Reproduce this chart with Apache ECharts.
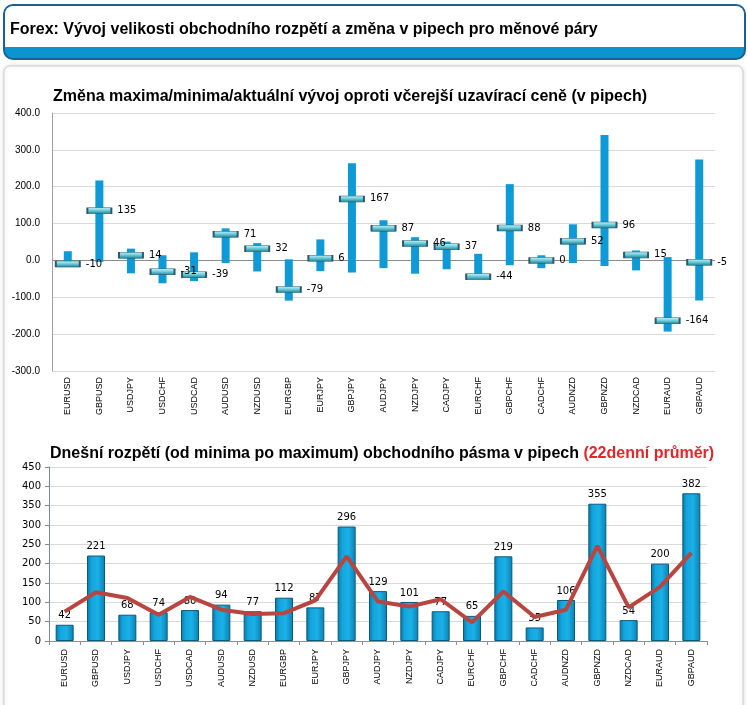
<!DOCTYPE html>
<html>
<head>
<meta charset="utf-8">
<script src="https://cdn.jsdelivr.net/npm/echarts@6/dist/echarts.min.js"></script>
<style>
html,body{margin:0;padding:0;background:#fff;}
#chart{width:748px;height:705px;}
</style>
</head>
<body>
<div id="chart"></div>
<script>
const categories = ['EURUSD','GBPUSD','USDJPY','USDCHF','USDCAD','AUDUSD','NZDUSD','EURGBP','EURJPY','GBPJPY','AUDJPY','NZDJPY','CADJPY','EURCHF','GBPCHF','CADCHF','AUDNZD','GBPNZD','NZDCAD','EURAUD','GBPAUD'];
const highs   = [25, 217, 32, 14, 22, 87, 47, 3, 57, 264, 109, 63, 51, 18, 207, 14, 98, 340, 27, 9, 274];
const lows    = [-16, -4, -35, -62, -56, -7, -30, -109, -29, -33, -21, -36, -24, -47, -13, -21, -7, -15, -27, -193, -109];
const current = [-10, 135, 14, -31, -39, 71, 32, -79, 6, 167, 87, 46, 37, -44, 88, 0, 52, 96, 15, -164, -5];
const ranges  = [42, 221, 68, 74, 80, 94, 77, 112, 87, 296, 129, 101, 77, 65, 219, 35, 106, 355, 54, 200, 382];
const avg22   = [76, 126, 111, 68, 114, 81, 70, 72, 105, 219, 102, 89, 108, 48, 128, 62, 81, 246, 87, 140, 228];
const topTicks = [-300, -200, -100, 0, 100, 200, 300, 400];
const bottomTicks = [0, 50, 100, 150, 200, 250, 300, 350, 400, 450];

const headerText = 'Forex: Vývoj velikosti obchodního rozpětí a změna v pipech pro měnové páry';
const topTitle = 'Změna maxima/minima/aktuální vývoj oproti včerejší uzavírací ceně (v pipech)';
const bottomTitleA = 'Dnešní rozpětí (od minima po maximum) obchodního pásma v pipech ';
const bottomTitleB = '(22denní průměr)';

const chart = echarts.init(document.getElementById('chart'));
const F = 'Liberation Sans, Arial, sans-serif';

const option = {
  animation: false,
  backgroundColor: '#ffffff',
  graphic: [
    {type:'rect', z:-10, shape:{x:4, y:66, width:739, height:660, r:6},
     style:{fill:'#ffffff', stroke:'#cfcfcf', lineWidth:1, shadowBlur:4, shadowColor:'rgba(0,0,0,0.15)'}},
    {type:'rect', z:-10, shape:{x:4, y:5, width:741, height:54, r:9},
     style:{fill:'#0b95cf', stroke:'#1a5f95', lineWidth:2}},
    {type:'rect', z:-9, shape:{x:5, y:6, width:739, height:41, r:[8,8,0,0]},
     style:{fill:'#ffffff'}}
  ],
  title: [
    {text: headerText, left: 5, top: 17, textStyle:{fontFamily:F, fontSize:16, fontWeight:'bold', color:'#000'}},
    {text: topTitle, left: 48, top: 84, textStyle:{fontFamily:F, fontSize:16, fontWeight:'bold', color:'#000'}},
    {text: '{a|' + bottomTitleA + '}{b|' + bottomTitleB + '}', left: 45, top: 441,
     textStyle:{rich:{
       a:{fontFamily:F, fontSize:16, fontWeight:'bold', color:'#000'},
       b:{fontFamily:F, fontSize:16, fontWeight:'bold', color:'#e3262d'}
     }}}
  ],
  grid: [
    {left: 52, right: 33, top: 113, height: 258},
    {left: 49, right: 41, top: 467, height: 174}
  ],
  xAxis: [
    {type:'category', gridIndex:0, data:categories, position:'bottom',
     axisLine:{show:false}, axisTick:{show:false},
     axisLabel:{rotate:90, fontFamily:F, fontSize:9, color:'#000', margin:6, interval:0}},
    {type:'category', gridIndex:1, data:categories,
     axisLine:{show:true, lineStyle:{color:'#8a8f98', width:1}},
     axisTick:{show:true, length:4, lineStyle:{color:'#8a8f98'}},
     axisLabel:{rotate:90, fontFamily:F, fontSize:9, color:'#000', margin:8, interval:0}}
  ],
  yAxis: [
    {type:'value', gridIndex:0, min:topTicks[0], max:topTicks[topTicks.length-1], interval:100,
     axisLine:{show:true, lineStyle:{color:'#a0a0a0'}}, axisTick:{show:false},
     axisLabel:{fontFamily:F, fontSize:10, color:'#000', margin:12, formatter: v => v.toFixed(1)},
     splitLine:{lineStyle:{color:['#d9d9d9','#d9d9d9','#d9d9d9','#8c8c8c','#d9d9d9','#d9d9d9','#d9d9d9','#d9d9d9']}}},
    {type:'value', gridIndex:1, min:bottomTicks[0], max:bottomTicks[bottomTicks.length-1], interval:50,
     axisLine:{show:true, lineStyle:{color:'#7f8a98'}}, axisTick:{show:true, length:4, lineStyle:{color:'#7f8a98'}},
     axisLabel:{fontFamily:'DejaVu Sans, sans-serif', fontSize:10, color:'#000', margin:8},
     splitLine:{lineStyle:{color:'#d9d9d9'}}}
  ],
  series: [
    {
      type:'custom', xAxisIndex:0, yAxisIndex:0, z:2,
      data: categories.map((c,i)=>[i, lows[i], highs[i]]),
      encode:{x:0, y:[1,2]},
      renderItem: function(params, api){
        const top = api.coord([api.value(0), api.value(2)]);
        const bot = api.coord([api.value(0), api.value(1)]);
        const w = 8;
        return {type:'rect', shape:{x: top[0]-w/2, y: top[1], width: w, height: bot[1]-top[1]},
                style:{fill:'#0d9ad6'}};
      }
    },
    {
      type:'scatter', xAxisIndex:0, yAxisIndex:0, z:3,
      data: current,
      symbol:'rect', symbolSize:[24,6],
      itemStyle:{
        color: new echarts.graphic.LinearGradient(0,0,0,1,[
          {offset:0, color:'#c4f3f7'},{offset:0.45, color:'#6fcfdd'},{offset:1, color:'#1b7d96'}]),
        borderColor:'#2f5866', borderWidth:1, opacity:1
      },
      label:{show:true, position:'right', distance:5, fontFamily:'DejaVu Sans, sans-serif', fontSize:10, color:'#000',
             formatter: p => String(p.value)}
    },
    {
      type:'bar', xAxisIndex:1, yAxisIndex:1, z:2,
      data: ranges, barWidth:18,
      itemStyle:{
        color: new echarts.graphic.LinearGradient(0,0,1,0,[
          {offset:0, color:'#0878a8'},{offset:0.25, color:'#12a6dd'},{offset:0.6, color:'#1bb0e6'},{offset:1, color:'#0a7fb2'}]),
        borderColor:'#0a5a7c', borderWidth:1
      },
      label:{show:true, position:'top', distance:4, fontFamily:'DejaVu Sans, sans-serif', fontSize:10, color:'#000'}
    },
    {
      type:'line', xAxisIndex:1, yAxisIndex:1, z:4,
      data: avg22, symbol:'none', smooth:false,
      lineStyle:{color:'#b8453f', width:4}
    }
  ]
};
chart.setOption(option);
</script>
</body>
</html>
